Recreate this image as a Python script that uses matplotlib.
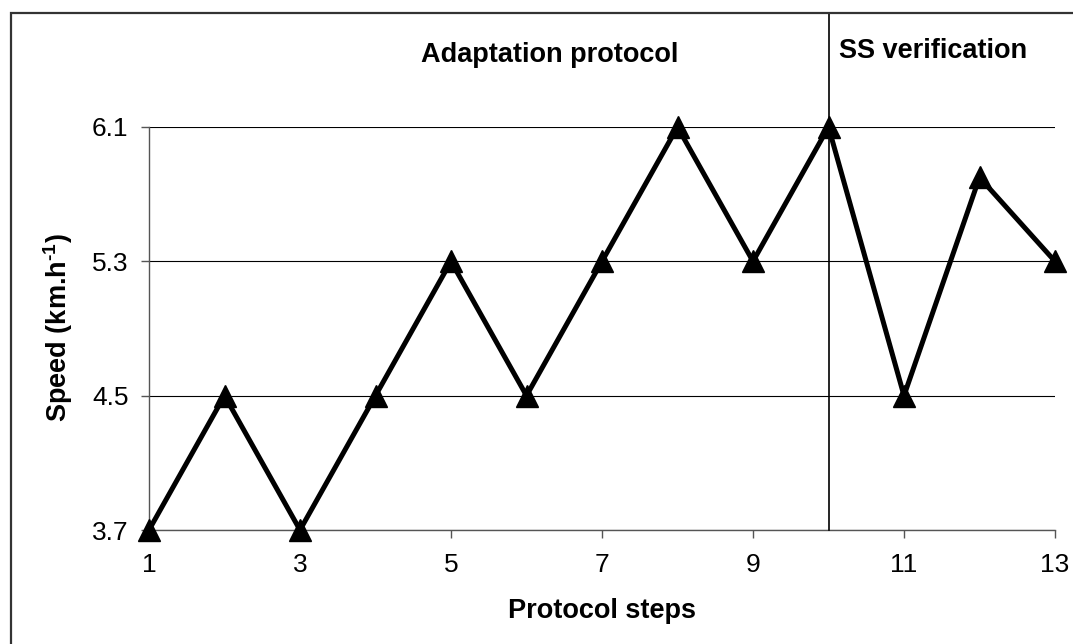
import matplotlib
matplotlib.use("Agg")
import matplotlib.pyplot as plt
from matplotlib.patches import Rectangle

plt.rcParams['font.family'] = ['Liberation Sans', 'DejaVu Sans']
plt.rcParams['mathtext.fontset'] = 'custom'
plt.rcParams['mathtext.rm'] = 'Liberation Sans:bold'
plt.rcParams['mathtext.bf'] = 'Liberation Sans:bold'
plt.rcParams['mathtext.default'] = 'bf'

steps = [1, 2, 3, 4, 5, 6, 7, 8, 9, 10, 11, 12, 13]
speed = [3.7, 4.5, 3.7, 4.5, 5.3, 4.5, 5.3, 6.1, 5.3, 6.1, 4.5, 5.8, 5.3]
x_ticks = [1, 3, 5, 7, 9, 11, 13]
y_ticks = [3.7, 4.5, 5.3, 6.1]
divider_step = 10
phase_labels = ["Adaptation protocol", "SS verification"]

W, H = 1073, 644
fig = plt.figure(figsize=(W / 100, H / 100), dpi=100)
ax = fig.add_axes([149 / W, 1 - 530 / H, (1055 - 149) / W, (530 - 127) / H])

# outer border
fig.patches.append(Rectangle((11 / W, -0.1), 1.2, 1 - 13 / H + 0.1,
                             transform=fig.transFigure, fill=False,
                             edgecolor='#333333', linewidth=1.6))

ax.plot(steps, speed, color='black', linewidth=3.6, marker='^',
        markersize=15.5, markerfacecolor='black', markeredgecolor='black',
        zorder=5, clip_on=False)

ax.set_xlim(1, 13)
ax.set_ylim(3.7, 6.1)
ax.set_xticks(x_ticks)
ax.set_yticks(y_ticks)
ax.set_yticklabels([f"{v:.1f}" for v in y_ticks])
ax.yaxis.grid(True, color='black', linewidth=0.8)
ax.set_axisbelow(True)

for s in ['top', 'right']:
    ax.spines[s].set_visible(False)
for s in ['left', 'bottom']:
    ax.spines[s].set_color('#555555')
    ax.spines[s].set_linewidth(1.0)

ax.tick_params(axis='both', direction='out', length=5.8, width=1.0,
               color='#555555', labelsize=19)
ax.tick_params(axis='x', pad=11)
ax.tick_params(axis='y', pad=9)

# divider line
ax.plot([divider_step, divider_step], [0, (530 - 13) / (530 - 127)],
        transform=ax.get_xaxis_transform(), color='black', linewidth=1.2,
        clip_on=False, zorder=3)

fig.text(550 / W, 1 - 62 / H, phase_labels[0], ha='center', va='baseline',
         fontsize=19.5, fontweight='bold')
fig.text(933 / W, 1 - 58 / H, phase_labels[1], ha='center', va='baseline',
         fontsize=19.5, fontweight='bold')

fig.text(602 / W, 1 - 611 / H, "Protocol steps", ha='center', va='center',
         fontsize=19.5, fontweight='bold')
fig.text(58 / W, 1 - 328 / H, r"Speed (km.h$^{\text{-1}}$)", ha='center',
         va='center', rotation=90, fontsize=19.5, fontweight='bold')

fig.savefig("out.png", dpi=100)
